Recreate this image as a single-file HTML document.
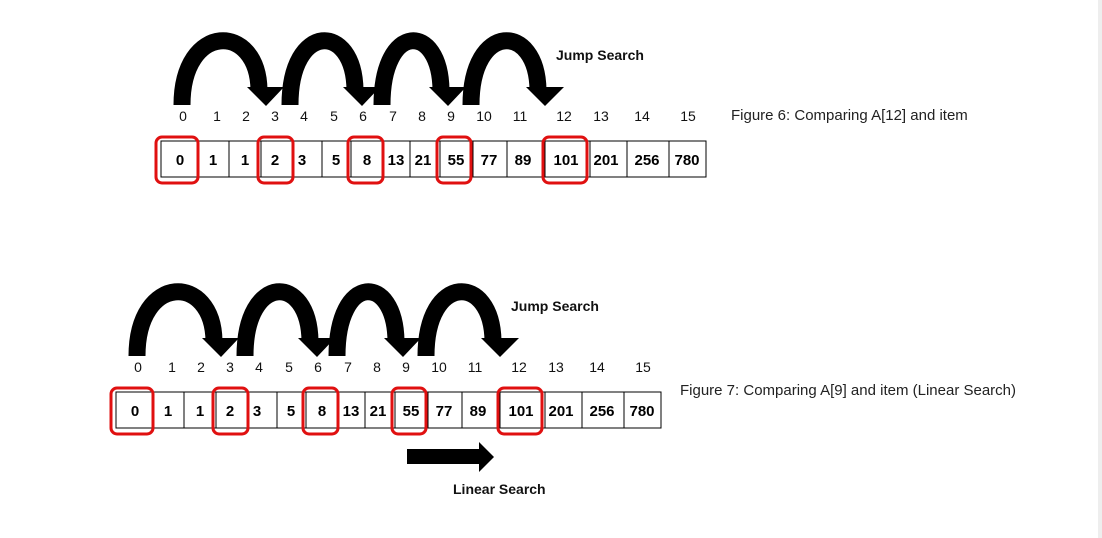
<!DOCTYPE html>
<html><head><meta charset="utf-8"><style>
html,body{margin:0;padding:0;background:#fff;width:1102px;height:538px;overflow:hidden}
.cap{font-family:"Liberation Sans",sans-serif;font-size:15px;fill:#222}
.idx{font-family:"Liberation Sans",sans-serif;font-size:14px;fill:#111}
.val{font-family:"Liberation Sans",sans-serif;font-size:15px;font-weight:bold;fill:#000}
.lbl{font-family:"Liberation Sans",sans-serif;font-size:14px;font-weight:bold;fill:#111}
</style></head><body>
<svg width="1102" height="538" xmlns="http://www.w3.org/2000/svg">
<rect x="1098" y="0" width="4" height="538" fill="#eeeeee"/>
<defs>
<g id="fig">
  <g fill="none" stroke="#000" stroke-width="17">
    <path d="M182,105 C182,22 258,22 259,90"/>
    <path d="M290,105 C290,22 354,22 355,90"/>
    <path d="M382,105 C382,22 440,22 441,90"/>
    <path d="M471,105 C471,22 537,22 538,90"/>
  </g>
  <g fill="#000">
    <polygon points="247,87 284,87 266,106"/>
    <polygon points="343,87 380,87 362,106"/>
    <polygon points="429,87 466,87 448,106"/>
    <polygon points="526,87 564,87 545,106"/>
  </g>
  <text class="lbl" x="556" y="60">Jump Search</text>
  <g class="idx" text-anchor="middle">
    <text x="183" y="121">0</text><text x="217" y="121">1</text><text x="246" y="121">2</text><text x="275" y="121">3</text>
    <text x="304" y="121">4</text><text x="334" y="121">5</text><text x="363" y="121">6</text><text x="393" y="121">7</text>
    <text x="422" y="121">8</text><text x="451" y="121">9</text><text x="484" y="121">10</text><text x="520" y="121">11</text>
    <text x="564" y="121">12</text><text x="601" y="121">13</text><text x="642" y="121">14</text><text x="688" y="121">15</text>
  </g>
  <rect x="161" y="141" width="545" height="36" fill="#fff" stroke="#000" stroke-width="1"/>
  <g stroke="#000" stroke-width="1">
    <line x1="198" y1="141" x2="198" y2="177"/><line x1="229" y1="141" x2="229" y2="177"/>
    <line x1="261" y1="141" x2="261" y2="177"/><line x1="292" y1="141" x2="292" y2="177"/>
    <line x1="322" y1="141" x2="322" y2="177"/><line x1="351" y1="141" x2="351" y2="177"/>
    <line x1="383" y1="141" x2="383" y2="177"/><line x1="410" y1="141" x2="410" y2="177"/>
    <line x1="440" y1="141" x2="440" y2="177"/><line x1="473" y1="141" x2="473" y2="177"/>
    <line x1="507" y1="141" x2="507" y2="177"/><line x1="545" y1="141" x2="545" y2="177"/>
    <line x1="590" y1="141" x2="590" y2="177"/><line x1="627" y1="141" x2="627" y2="177"/>
    <line x1="669" y1="141" x2="669" y2="177"/>
  </g>
  <g class="val" text-anchor="middle">
    <text x="180" y="165">0</text><text x="213" y="165">1</text><text x="245" y="165">1</text><text x="275" y="165">2</text>
    <text x="302" y="165">3</text><text x="336" y="165">5</text><text x="367" y="165">8</text><text x="396" y="165">13</text>
    <text x="423" y="165">21</text><text x="456" y="165">55</text><text x="489" y="165">77</text><text x="523" y="165">89</text>
    <text x="566" y="165">101</text><text x="606" y="165">201</text><text x="647" y="165">256</text><text x="687" y="165">780</text>
  </g>
  <g fill="none" stroke="#e01010" stroke-width="3">
    <rect x="156" y="137" width="42" height="46" rx="6"/>
    <rect x="258" y="137" width="35" height="46" rx="6"/>
    <rect x="348" y="137" width="35" height="46" rx="6"/>
    <rect x="437" y="137" width="34" height="46" rx="6"/>
    <rect x="543" y="137" width="44" height="46" rx="6"/>
  </g>
</g>
</defs>
<use href="#fig"/>
<text class="cap" x="731" y="120">Figure 6: Comparing A[12] and item</text>
<use href="#fig" transform="translate(-45,251)"/>
<text class="cap" x="680" y="395">Figure 7: Comparing A[9] and item (Linear Search)</text>
<rect x="407" y="449" width="73" height="15" fill="#000"/>
<polygon points="479,442 494,457 479,472" fill="#000"/>
<text class="lbl" x="453" y="494">Linear Search</text>
</svg>
</body></html>
